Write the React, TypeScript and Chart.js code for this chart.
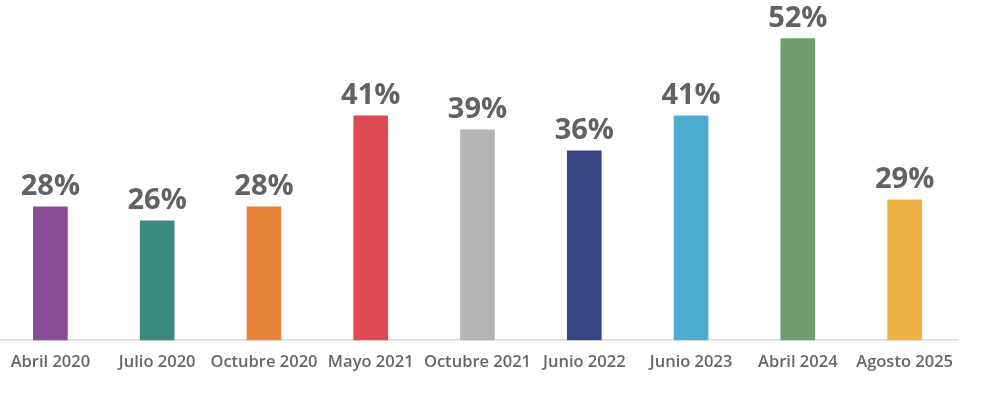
import React, { useEffect, useRef } from "react";
import { Chart, registerables } from "chart.js";

Chart.register(...registerables);

const categories = [
  "Abril 2020",
  "Julio 2020",
  "Octubre 2020",
  "Mayo 2021",
  "Octubre 2021",
  "Junio 2022",
  "Junio 2023",
  "Abril 2024",
  "Agosto 2025",
];
const values = [28, 26, 28, 41, 39, 36, 41, 52, 29];
const barColors = [
  "#8a4e96",
  "#3a8a7e",
  "#e6843a",
  "#df4a52",
  "#b3b4b6",
  "#364481",
  "#4cadd0",
  "#6e9e6c",
  "#efb144",
];

const valueLabels = {
  id: "valueLabels",
  afterDatasetsDraw(chart: any) {
    const ctx = chart.ctx;
    const meta = chart.getDatasetMeta(0);
    ctx.save();
    ctx.font = "bold 29px 'Open Sans', sans-serif";
    ctx.fillStyle = "#616264";
    ctx.textAlign = "center";
    ctx.textBaseline = "alphabetic";
    meta.data.forEach((bar: any, i: number) => {
      ctx.fillText(values[i] + "%", bar.x, bar.y - 12);
    });
    ctx.restore();
  },
};

export default function App() {
  const ref = useRef<HTMLCanvasElement | null>(null);
  useEffect(() => {
    if (!ref.current) return;
    const chart = new Chart(ref.current, {
      type: "bar",
      data: {
        labels: categories,
        datasets: [
          {
            data: values,
            backgroundColor: barColors,
            barThickness: 34,
          },
        ],
      },
      options: {
        animation: false,
        responsive: true,
        maintainAspectRatio: false,
        layout: { padding: { top: 0, bottom: 16, left: 0, right: 35 } },
        plugins: {
          legend: { display: false },
          tooltip: { enabled: false },
        },
        scales: {
          x: {
            grid: { display: false, drawTicks: false },
            border: { color: "#d9d9d9", width: 1.5 },
            ticks: {
              padding: 12,
              color: "#66676a",
              font: { family: "'Open Sans', sans-serif", size: 16.5, weight: 600 },
              maxRotation: 0,
              autoSkip: false,
            },
          },
          y: {
            display: false,
            min: 9,
            max: 57.5,
          },
        },
      },
      plugins: [valueLabels],
    });
    return () => chart.destroy();
  }, []);
  return (
    <div style={{ position: "absolute", left: -3, top: 0, width: 996, height: 400, background: "#fff" }}>
      <canvas ref={ref} />
    </div>
  );
}
